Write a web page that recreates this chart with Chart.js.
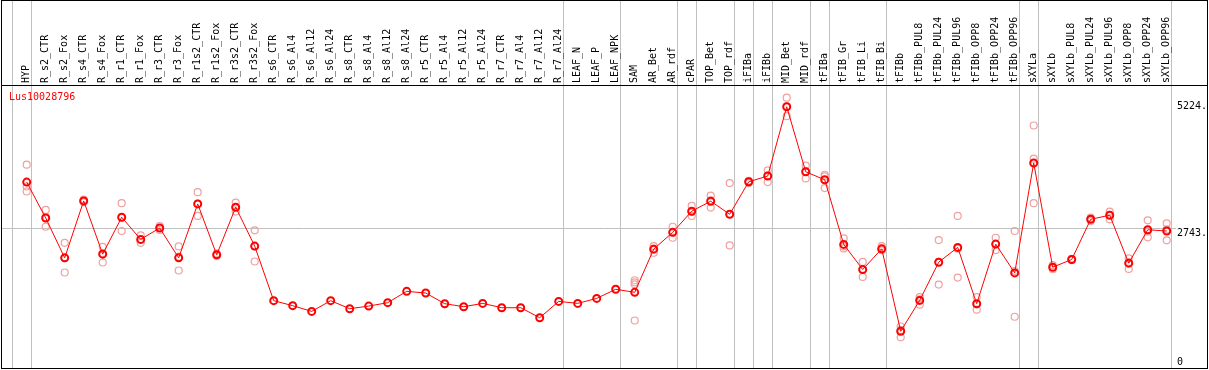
<!DOCTYPE html>
<html>
<head>
<meta charset="utf-8">
<script src="https://cdn.jsdelivr.net/npm/chart.js@4.4.1/dist/chart.umd.min.js"></script>
<style>
  body { margin: 0; background: #fff; }
  #wrap { position: relative; width: 1209px; height: 370px; }
  #frame {
    position: absolute; left: 1px; top: 0; width: 1207px; height: 369px;
    border: 1px solid #000; box-sizing: border-box; pointer-events: none;
  }
</style>
</head>
<body>
<div id="wrap">
  <canvas id="expr-chart"></canvas>
  <div id="frame"></div>
</div>
<script>
const geneName = 'Lus10028796';

const samples = [
  'HYP', 'R_s2_CTR', 'R_s2_Fox', 'R_s4_CTR', 'R_s4_Fox', 'R_r1_CTR', 'R_r1_Fox', 'R_r3_CTR', 'R_r3_Fox',
  'R_r1s2_CTR', 'R_r1s2_Fox', 'R_r3s2_CTR', 'R_r3s2_Fox', 'R_s6_CTR', 'R_s6_Al4', 'R_s6_Al12', 'R_s6_Al24',
  'R_s8_CTR', 'R_s8_Al4', 'R_s8_Al12', 'R_s8_Al24', 'R_r5_CTR', 'R_r5_Al4', 'R_r5_Al12', 'R_r5_Al24',
  'R_r7_CTR', 'R_r7_Al4', 'R_r7_Al12', 'R_r7_Al24', 'LEAF_N', 'LEAF_P', 'LEAF_NPK', 'SAM', 'AR_Bet', 'AR_rdf',
  'cPAR', 'TOP_Bet', 'TOP_rdf', 'iFIBa', 'iFIBb', 'MID_Bet', 'MID_rdf', 'tFIBa', 'tFIB_Gr', 'tFIB_Li', 'tFIB_Bi',
  'tFIBb', 'tFIBb_PUL8', 'tFIBb_PUL24', 'tFIBb_PUL96', 'tFIBb_OPP8', 'tFIBb_OPP24', 'tFIBb_OPP96',
  'sXYLa', 'sXYLb', 'sXYLb_PUL8', 'sXYLb_PUL24', 'sXYLb_PUL96', 'sXYLb_OPP8', 'sXYLb_OPP24', 'sXYLb_OPP96'
];

// mean expression per sample
const means = [
  3643, 2940, 2158, 3274, 2231, 2954, 2520, 2743, 2158, 3215, 2217, 3150, 2388,
  1319, 1221, 1109, 1319, 1162, 1213, 1280, 1502, 1469, 1260, 1201, 1266, 1181, 1181, 985, 1305,
  1266, 1364, 1542, 1483, 2329, 2658, 3072, 3268, 3013, 3649, 3761, 5119, 3845, 3688,
  2422, 1930, 2335, 721, 1325, 2073, 2363, 1260, 2428, 1863,
  4017, 1975, 2126, 2914, 2993, 2054, 2709, 2684
];

// individual replicates (null = none shown)
const _ = null;
const repA = [
  3983, 3097, 2453, 3300, 2375, 3229, 2599, 2782, 2382, 3446, 2245, 3241, 2697,
  _, _, _, _, _, _, _, _, _, _, _, _, _, _, _, _, _, _, _,
  1719, 2388, 2768, 3176, 3379, 3623, 3668, 3871, 5297, 3964, 3786,
  2540, 2079, 2388, 813, 1390, 2507, 2979, 1390, 2552, 2684,
  4751, 2014, 2140, 2946, 3064, 2146, 2894, 2835
];
const repB = [
  3556, 2768, 1871, 3250, 2067, 2684, 2453, 2704, 1910, 2979, 2200, 3064, 2087,
  _, _, _, _, _, _, _, _, _, _, _, _, _, _, _, _, _, _, _,
  931, 2257, 2552, 2979, 3143, 2402, 3623, 3643, 4934, 3714, 3525,
  2343, 1784, 2310, 603, 1240, 1634, 1772, 1142, 2310, 1004,
  3229, 1935, 2112, 2881, 2914, 1941, 2560, 2501
];
const repC = [
  3458, 2955, 2150, 3274, 2251, 2949, 2508, 2743, 2182, 3220, 2206, 3145, 2380,
  _, _, _, _, _, _, _, _, _, _, _, _, _, _, _, _, _, _, _,
  1679, 2340, 2655, 3060, 3283, 3014, 3655, 3769, 5126, 3857, 3753,
  2383, 1927, 2307, 747, 1345, 2078, 2338, 1248, 2422, 1901,
  4101, 1976, 2126, 2915, 3001, 2075, 2673, 2716
];
const repD = samples.map((s) => (s === 'SAM' ? 1640 : null));

// sample index after which a group separator is drawn
const groupEnds = [-1, 0, 28, 31, 34, 35, 37, 38, 39, 41, 42, 45, 52, 53, 60];

// value axis marks
const yMarks = [0, 2743, 5224];

const toPoints = (arr) => arr.map((v, i) => ({ x: i, y: v }));

const separators = {
  id: 'separators',
  beforeDraw(chart) {
    const { ctx } = chart;
    const xs = chart.scales.x;
    ctx.save();
    ctx.strokeStyle = '#c0c0c0';
    ctx.lineWidth = 1;
    groupEnds.forEach((g) => {
      const px = Math.round(xs.getPixelForValue(g + 0.2)) + 0.5;
      ctx.beginPath();
      ctx.moveTo(px, 0);
      ctx.lineTo(px, chart.chartArea.bottom);
      ctx.stroke();
    });
    ctx.restore();
  }
};

const geneTitle = {
  id: 'geneTitle',
  afterDraw(chart) {
    const { ctx, chartArea } = chart;
    ctx.save();
    ctx.fillStyle = '#ff0000';
    ctx.font = '10px "DejaVu Sans Mono"';
    ctx.textBaseline = 'middle';
    ctx.fillText(geneName, chartArea.left + 7, chartArea.top + 12);
    ctx.restore();
  }
};

const repStyle = {
  showLine: false,
  pointRadius: 3.5,
  pointBorderWidth: 1.2,
  pointBorderColor: '#f0a0a0',
  pointBackgroundColor: 'rgba(0,0,0,0)',
  borderColor: '#f0a0a0'
};

new Chart(document.getElementById('expr-chart'), {
  type: 'line',
  data: {
    datasets: [
      {
        label: 'mean',
        data: toPoints(means),
        borderColor: '#ff0000',
        borderWidth: 1,
        pointRadius: 3.5,
        pointBorderWidth: 2,
        pointBorderColor: '#ff0000',
        pointBackgroundColor: 'rgba(0,0,0,0)',
        tension: 0
      },
      { label: 'rep A', data: toPoints(repA), ...repStyle },
      { label: 'rep B', data: toPoints(repB), ...repStyle },
      { label: 'rep C', data: toPoints(repC), ...repStyle },
      { label: 'rep D', data: toPoints(repD), ...repStyle }
    ]
  },
  options: {
    responsive: true,
    maintainAspectRatio: false,
    animation: false,
    devicePixelRatio: 1,
    layout: { autoPadding: false, padding: { left: 2, right: 2, top: 0, bottom: 2 } },
    plugins: {
      legend: { display: false },
      tooltip: { enabled: false }
    },
    scales: {
      x: {
        type: 'linear',
        position: 'top',
        min: -1.3,
        max: 62.12,
        afterBuildTicks: (scale) => { scale.ticks = samples.map((s, i) => ({ value: i })); },
        afterFit: (scale) => {
          scale.height = 85;
          scale.paddingLeft = 0;
          scale.paddingRight = 0;
        },
        grid: { display: false, drawTicks: false },
        border: { display: true, color: '#000', width: 1 },
        ticks: {
          autoSkip: false,
          minRotation: 90,
          maxRotation: 90,
          padding: 2,
          labelOffset: 12,
          color: '#000',
          font: { family: 'DejaVu Sans Mono', size: 10 },
          callback: (v) => samples[v]
        }
      },
      y: {
        type: 'linear',
        position: 'right',
        min: 0,
        max: 5545,
        afterBuildTicks: (scale) => { scale.ticks = yMarks.map((v) => ({ value: v })); },
        afterFit: (scale) => {
          scale.width = 0;
          scale.paddingTop = 0;
          scale.paddingBottom = 0;
        },
        grid: {
          drawTicks: false,
          color: (c) => (c.tick && c.tick.value === 2743 ? '#c0c0c0' : 'rgba(0,0,0,0)')
        },
        border: { display: false },
        ticks: {
          autoSkip: false,
          mirror: true,
          crossAlign: 'far',
          padding: 0,
          labelOffset: 5.5,
          color: '#000',
          font: { family: 'DejaVu Sans Mono', size: 10, lineHeight: 1.1 },
          showLabelBackdrop: (c) => c.tick.value !== 0,
          backdropColor: '#fff',
          backdropPadding: 1,
          callback: (v) => (v === 0 ? ['0', '', ''] : v + '.')
        }
      }
    }
  },
  plugins: [separators, geneTitle]
});
</script>
</body>
</html>
